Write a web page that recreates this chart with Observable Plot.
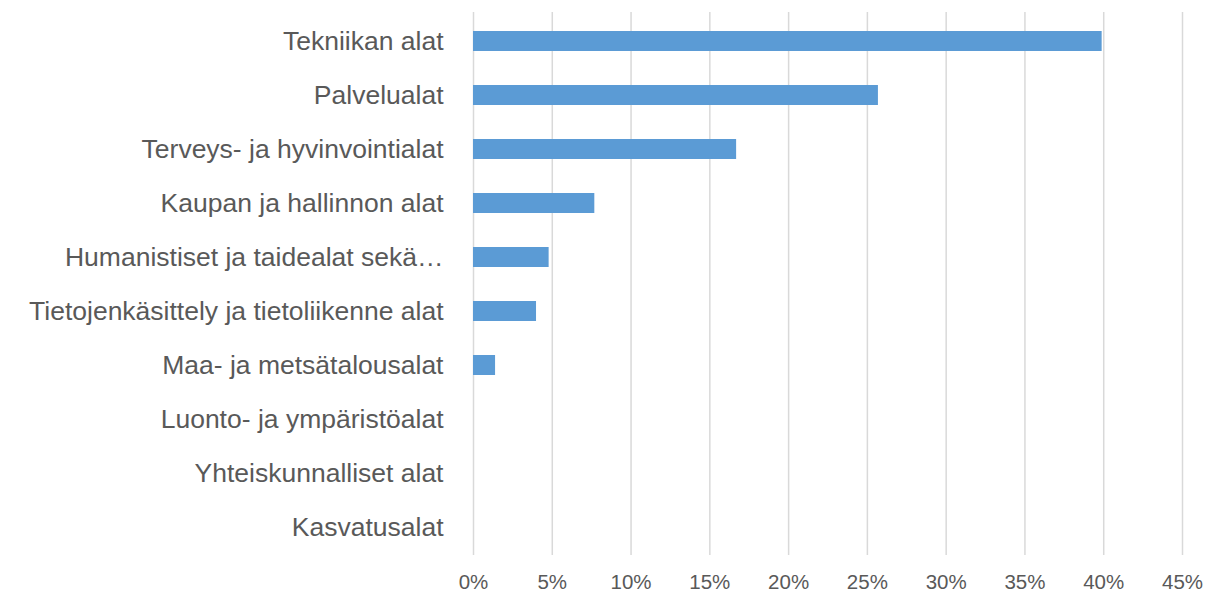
<!DOCTYPE html>
<html>
<head>
<meta charset="utf-8">
<script src="https://cdn.jsdelivr.net/npm/d3@7"></script>
<script src="https://cdn.jsdelivr.net/npm/@observablehq/plot@0.6"></script>
<style>
  html, body { margin: 0; padding: 0; background: #ffffff; }
  #chart svg { display: block; }
</style>
</head>
<body>
<div id="chart"></div>
<script>
const categories = [
  "Tekniikan alat",
  "Palvelualat",
  "Terveys- ja hyvinvointialat",
  "Kaupan ja hallinnon alat",
  "Humanistiset ja taidealat sekä…",
  "Tietojenkäsittely ja tietoliikenne alat",
  "Maa- ja metsätalousalat",
  "Luonto- ja ympäristöalat",
  "Yhteiskunnalliset alat",
  "Kasvatusalat"
];
const values = [0.399, 0.257, 0.167, 0.077, 0.048, 0.040, 0.014, 0, 0, 0];
const xTicks = [0, 0.05, 0.10, 0.15, 0.20, 0.25, 0.30, 0.35, 0.40, 0.45];

const data = categories.map((c, i) => ({category: c, value: values[i]}));
const pct = d => Math.round(d * 100) + "%";

const chart = Plot.plot({
  width: 1210,
  height: 599,
  marginLeft: 473,
  marginRight: 28,
  marginTop: 12,
  marginBottom: 44,
  style: {fontFamily: "'Liberation Sans', Arial, sans-serif", color: "#595959", background: "#ffffff"},
  x: {domain: [0, 0.45], ticks: xTicks, tickFormat: pct},
  y: {domain: categories, paddingInner: 0.63, paddingOuter: 0.315},
  marks: [
    Plot.ruleX(xTicks, {stroke: "#d9d9d9", strokeWidth: 1.5}),
    Plot.barX(data, {x: "value", y: "category", fill: "#5b9bd5"}),
    Plot.axisX({ticks: xTicks, tickSize: 0, tickPadding: 19, fontSize: 20.5, tickFormat: pct, label: null, fill: "#595959"}),
    Plot.axisY({tickSize: 0, tickPadding: 30, fontSize: 26.5, label: null, fill: "#595959"})
  ]
});
document.getElementById("chart").appendChild(chart);
</script>
</body>
</html>
